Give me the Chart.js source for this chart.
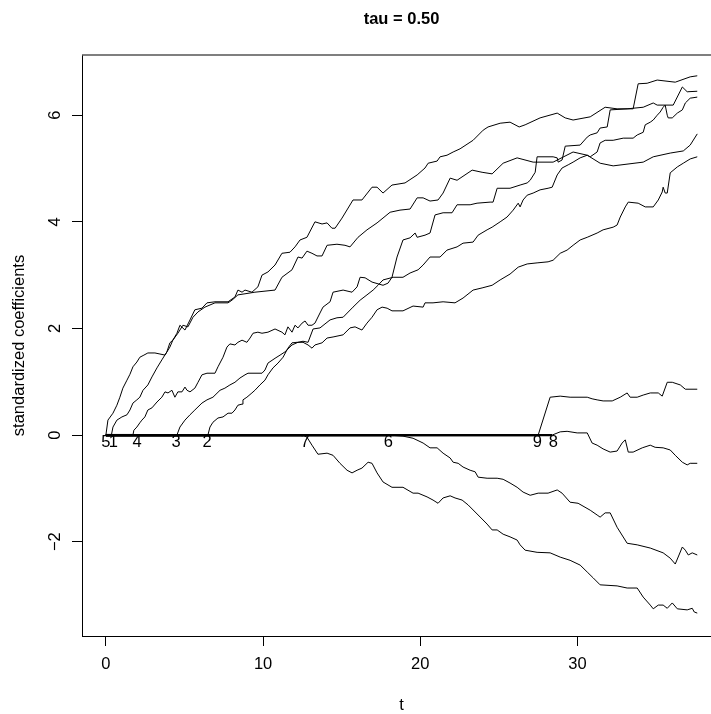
<!DOCTYPE html>
<html>
<head>
<meta charset="utf-8">
<title>tau = 0.50</title>
<script src="https://cdn.jsdelivr.net/npm/chart.js@4.4.1/dist/chart.umd.min.js"></script>
<style>
  html, body { margin: 0; padding: 0; background: #fff; overflow: hidden; }
  #wrap { width: 711px; height: 714px; overflow: hidden; }
</style>
</head>
<body>
<div id="wrap"><canvas id="pathChart" width="721" height="714"></canvas></div>
<script>
// coefficient paths, [t, standardized coefficient]
const path5 = [[0,0],[0.13,0.28],[0.45,0.41],[0.70,0.56],[0.89,0.71],[1.08,0.88],[1.34,1.03],[1.53,1.14],[1.72,1.28],[1.97,1.37],[2.16,1.46],[2.42,1.50],[2.67,1.54],[3.12,1.54],[3.44,1.52],[3.76,1.50],[4.07,1.65],[4.26,1.78],[4.52,1.91],[4.71,2.06],[5.03,1.97],[5.35,2.16],[5.66,2.35],[6.11,2.38],[6.43,2.48],[6.94,2.50],[7.77,2.50],[8.21,2.59],[8.40,2.72],[8.66,2.68],[8.85,2.72],[9.29,2.68],[9.67,2.78],[9.93,3.00],[10.31,3.06],[10.76,3.19],[11.20,3.41],[11.71,3.43],[12.03,3.53],[12.35,3.66],[12.79,3.71],[13.30,4.00],[13.75,3.96],[14.07,3.98],[14.38,3.88],[14.58,3.88],[15.02,4.07],[15.72,4.41],[16.29,4.41],[16.93,4.65],[17.25,4.65],[17.63,4.54],[18.20,4.69],[19.03,4.73],[19.80,4.88],[20.30,5.01],[20.50,5.10],[21.07,5.14],[21.26,5.22],[21.70,5.25],[22.09,5.31],[22.53,5.37],[23.36,5.53],[24.00,5.72],[24.31,5.78],[25.08,5.85],[25.71,5.87],[26.29,5.78],[26.67,5.82],[27.62,5.95],[28.71,6.04],[29.22,5.95],[29.72,5.91],[30.81,5.97],[31.76,6.15],[32.52,6.12],[33.54,6.12],[33.86,6.59],[34.43,6.60],[35.07,6.66],[36.22,6.62],[37.17,6.72],[37.62,6.74]];
const path1 = [[0,0],[0.35,0],[0.45,0.15],[0.70,0.28],[1.02,0.34],[1.34,0.38],[1.53,0.47],[1.72,0.60],[1.97,0.66],[2.16,0.71],[2.36,0.84],[2.67,0.94],[2.93,1.09],[3.25,1.26],[3.56,1.41],[3.88,1.56],[4.07,1.73],[4.26,1.78],[4.58,1.91],[4.90,2.06],[5.22,2.03],[5.54,2.21],[5.86,2.31],[6.30,2.40],[6.94,2.48],[7.77,2.48],[8.02,2.53],[8.40,2.63],[8.85,2.65],[9.48,2.68],[10.76,2.72],[11.20,2.96],[11.84,3.10],[12.22,3.34],[12.48,3.32],[12.79,3.45],[13.11,3.41],[13.43,3.36],[13.75,3.36],[14.07,3.56],[14.70,3.58],[15.21,3.56],[15.53,3.53],[16.04,3.71],[16.61,3.85],[17.25,3.98],[18.08,4.18],[18.71,4.22],[19.35,4.24],[19.80,4.45],[20.18,4.45],[20.62,4.39],[21.13,4.41],[21.45,4.54],[21.90,4.82],[22.34,4.78],[23.30,4.97],[23.93,4.93],[24.57,4.90],[25.27,5.10],[26.16,5.20],[27.18,5.12],[28.45,5.12],[29.72,5.31],[30.62,5.25],[31.44,5.10],[32.27,5.05],[34.18,5.12],[34.82,5.22],[35.90,5.29],[36.73,5.33],[37.17,5.44],[37.62,5.65]];
const path4 = [[0,0],[1.72,0],[1.78,0.09],[1.97,0.15],[2.16,0.23],[2.29,0.28],[2.48,0.34],[2.67,0.47],[2.93,0.51],[3.25,0.62],[3.56,0.71],[3.76,0.81],[3.95,0.79],[4.20,0.84],[4.39,0.71],[4.58,0.81],[4.84,0.81],[5.03,0.90],[5.16,0.84],[5.35,0.81],[5.66,0.88],[5.86,0.99],[6.11,1.13],[6.43,1.16],[6.94,1.16],[7.13,1.28],[7.45,1.46],[7.70,1.65],[7.89,1.71],[8.21,1.69],[8.40,1.74],[8.66,1.78],[8.97,1.74],[9.17,1.82],[9.36,1.91],[9.67,1.93],[9.93,1.91],[10.31,1.93],[10.76,1.99],[11.20,1.93],[11.39,1.88],[11.58,2.03],[11.84,1.93],[12.03,2.06],[12.22,2.01],[12.48,2.10],[12.67,2.14],[12.86,2.06],[13.11,2.06],[13.30,2.10],[13.62,2.29],[13.81,2.40],[14.26,2.50],[14.45,2.68],[15.09,2.72],[15.66,2.68],[15.98,2.78],[16.17,2.96],[16.49,2.95],[16.93,2.87],[17.63,2.81],[17.95,2.85],[18.20,2.96],[18.52,3.34],[18.90,3.66],[19.35,3.70],[19.67,3.79],[19.80,3.71],[20.30,3.75],[20.62,3.79],[20.94,4.13],[21.45,4.17],[22.02,4.17],[22.34,4.32],[23.17,4.32],[23.61,4.35],[24.44,4.37],[24.63,4.37],[24.89,4.63],[25.71,4.63],[26.35,4.69],[26.80,4.73],[26.99,4.78],[27.31,4.93],[27.43,5.22],[28.45,5.22],[28.71,5.20],[28.77,5.12],[29.02,5.16],[29.22,5.42],[30.17,5.44],[30.62,5.59],[30.81,5.63],[31.25,5.67],[31.44,5.76],[31.89,5.78],[32.08,6.10],[33.16,6.12],[34.18,6.15],[34.82,6.23],[35.07,6.19],[36.09,6.19],[36.67,6.53],[36.98,6.44],[37.62,6.45]];
const path3 = [[0,0],[4.52,0],[4.71,0.15],[5.03,0.28],[5.35,0.38],[5.66,0.47],[6.11,0.60],[6.43,0.66],[6.81,0.71],[7.26,0.84],[7.57,0.88],[7.89,0.94],[8.21,0.99],[8.53,1.07],[8.85,1.13],[9.04,1.16],[9.93,1.16],[10.12,1.22],[10.31,1.35],[10.76,1.44],[11.08,1.50],[11.39,1.56],[11.84,1.69],[12.22,1.74],[12.54,1.76],[12.86,1.74],[13.18,1.99],[13.62,2.01],[14.26,2.16],[14.70,2.20],[15.09,2.21],[15.72,2.40],[16.17,2.53],[16.61,2.63],[17.00,2.72],[17.31,2.81],[17.63,2.91],[18.27,2.96],[18.90,2.96],[19.35,3.04],[19.86,3.10],[20.18,3.19],[20.62,3.34],[21.26,3.34],[21.70,3.47],[22.34,3.53],[22.72,3.60],[23.36,3.62],[23.68,3.75],[24.25,3.85],[24.57,3.90],[25.08,4.00],[25.52,4.09],[25.91,4.22],[26.23,4.35],[26.35,4.28],[26.54,4.41],[26.80,4.50],[27.18,4.54],[27.62,4.60],[28.13,4.63],[28.39,4.65],[28.71,4.88],[29.02,5.01],[29.41,5.07],[29.72,5.12],[30.17,5.20],[30.62,5.25],[30.81,5.22],[31.25,5.31],[31.44,5.48],[31.76,5.53],[32.27,5.53],[32.91,5.57],[33.54,5.57],[33.80,5.63],[34.18,5.68],[34.31,5.82],[34.63,5.87],[34.82,5.91],[35.07,6.00],[35.26,6.06],[35.45,6.15],[35.58,6.19],[35.71,6.00],[35.77,5.95],[36.03,5.95],[36.35,6.04],[36.67,6.10],[36.86,6.23],[37.17,6.32],[37.62,6.34]];
const path2 = [[0,0],[6.49,0],[6.62,0.15],[6.81,0.24],[7.13,0.32],[7.45,0.34],[7.77,0.41],[8.02,0.41],[8.21,0.47],[8.40,0.56],[8.66,0.58],[8.72,0.66],[8.97,0.71],[9.29,0.79],[9.48,0.84],[9.80,0.94],[10.12,1.03],[10.31,1.13],[10.63,1.26],[10.95,1.35],[11.27,1.46],[11.58,1.63],[11.84,1.73],[12.16,1.74],[12.54,1.74],[12.86,1.69],[13.11,1.63],[13.30,1.69],[13.75,1.73],[14.07,1.82],[14.45,1.84],[15.09,1.88],[15.53,2.01],[15.85,2.03],[16.29,1.97],[16.61,2.10],[16.93,2.21],[17.25,2.35],[17.57,2.40],[17.89,2.38],[18.20,2.33],[18.90,2.33],[19.54,2.42],[20.18,2.40],[20.30,2.48],[20.81,2.48],[21.45,2.50],[22.21,2.48],[22.72,2.57],[23.36,2.72],[23.93,2.76],[24.57,2.81],[25.08,2.91],[25.71,3.02],[26.23,3.15],[26.80,3.21],[27.43,3.23],[28.13,3.25],[28.45,3.28],[28.90,3.41],[29.34,3.47],[29.72,3.56],[30.17,3.66],[30.62,3.71],[31.25,3.79],[31.63,3.85],[32.27,3.90],[32.52,3.94],[32.72,4.09],[33.04,4.28],[33.23,4.37],[33.86,4.35],[34.31,4.28],[34.82,4.28],[35.14,4.41],[35.39,4.56],[35.45,4.65],[35.58,4.54],[35.71,4.54],[35.90,4.92],[36.35,5.03],[36.73,5.10],[37.17,5.18],[37.62,5.22]];
const path7 = [[0,0],[12.54,0],[12.79,-0.04],[13.11,-0.19],[13.49,-0.36],[14.07,-0.34],[14.45,-0.38],[14.89,-0.53],[15.34,-0.66],[15.66,-0.71],[15.98,-0.66],[16.29,-0.62],[16.68,-0.51],[16.93,-0.53],[17.25,-0.71],[17.63,-0.88],[18.20,-0.98],[18.90,-0.98],[19.54,-1.09],[19.86,-1.09],[20.43,-1.16],[20.81,-1.22],[21.13,-1.28],[21.45,-1.18],[21.90,-1.14],[22.21,-1.18],[22.66,-1.22],[23.04,-1.31],[23.68,-1.50],[24.25,-1.67],[24.57,-1.78],[24.89,-1.78],[25.27,-1.86],[25.71,-1.91],[26.16,-1.97],[26.35,-2.06],[26.67,-2.16],[27.43,-2.20],[28.26,-2.21],[28.90,-2.29],[29.53,-2.35],[30.17,-2.44],[30.62,-2.57],[31.00,-2.68],[31.44,-2.81],[32.52,-2.83],[33.16,-2.87],[33.80,-2.87],[34.18,-3.04],[34.63,-3.19],[34.82,-3.26],[35.14,-3.19],[35.45,-3.19],[35.71,-3.25],[36.03,-3.15],[36.35,-3.26],[36.98,-3.28],[37.30,-3.25],[37.43,-3.32],[37.62,-3.34]];
const path6 = [[0,0],[17.95,0],[18.90,-0.02],[19.54,-0.06],[20.18,-0.15],[20.62,-0.24],[21.07,-0.24],[21.45,-0.34],[21.90,-0.43],[22.09,-0.51],[22.41,-0.53],[22.72,-0.60],[23.17,-0.66],[23.49,-0.69],[23.68,-0.79],[24.25,-0.81],[24.89,-0.81],[25.27,-0.83],[25.71,-0.90],[26.16,-0.98],[26.54,-1.07],[26.99,-1.13],[27.50,-1.09],[28.13,-1.09],[28.71,-1.03],[29.02,-1.09],[29.53,-1.26],[30.04,-1.28],[30.81,-1.41],[31.25,-1.50],[31.44,-1.54],[31.76,-1.46],[32.08,-1.46],[32.52,-1.73],[33.16,-2.03],[33.80,-2.06],[34.63,-2.12],[35.45,-2.21],[35.90,-2.31],[36.22,-2.42],[36.67,-2.10],[36.86,-2.16],[37.05,-2.25],[37.30,-2.21],[37.62,-2.25]];
const path9 = [[0,0],[27.50,0],[28.26,0.71],[28.90,0.73],[29.53,0.71],[30.62,0.71],[30.93,0.68],[31.25,0.66],[31.63,0.64],[32.21,0.64],[32.72,0.71],[33.16,0.79],[33.35,0.71],[33.80,0.71],[34.18,0.75],[34.63,0.79],[35.14,0.79],[35.39,0.73],[35.71,0.99],[36.03,0.99],[36.54,0.94],[36.86,0.86],[37.62,0.86]];
const path8 = [[0,0],[28.39,0],[28.90,0.06],[29.34,0.07],[29.98,0.04],[30.62,0.04],[30.93,-0.15],[31.25,-0.19],[31.63,-0.26],[32.08,-0.32],[32.52,-0.30],[32.84,-0.15],[33.04,-0.09],[33.23,-0.32],[33.54,-0.32],[34.12,-0.24],[34.63,-0.19],[34.94,-0.23],[35.45,-0.24],[35.90,-0.28],[36.22,-0.38],[36.67,-0.51],[36.98,-0.56],[37.17,-0.53],[37.62,-0.53]];

// variable labels and the t where each one enters
const varNames = ['5', '1', '4', '3', '2', '7', '6', '9', '8'];
const varEntry = [0, 0.47, 1.99, 4.46, 6.43, 12.67, 17.96, 27.45, 28.47];

const xTicks = [0, 10, 20, 30];
const yTicks = [-2, 0, 2, 4, 6];
const xRange = [-1.52, 39.13];
const yRange = [-3.77, 7.13];

const FONT = '"Liberation Sans", Arial, Helvetica, sans-serif';

const paths = [path5, path1, path4, path3, path2, path7, path6, path9, path8];

// R-ish decorations: top frame line, rotated y labels, titles, variable numbers
const decor = {
  id: 'decor',
  afterDatasetsDraw(chart) {
    const { ctx, scales: { x, y } } = chart;
    ctx.save();
    ctx.fillStyle = '#000';
    ctx.font = '16.5px ' + FONT;
    ctx.textAlign = 'center';
    ctx.textBaseline = 'middle';
    const y0 = y.getPixelForValue(0);
    varNames.forEach((n, i) => {
      ctx.fillText(n, x.getPixelForValue(varEntry[i]), y0 + 7);
    });
    ctx.restore();
  },
  afterDraw(chart) {
    const { ctx, chartArea: a, scales: { y } } = chart;
    ctx.save();
    ctx.strokeStyle = '#555';
    ctx.lineWidth = 1.3;
    ctx.beginPath();
    ctx.moveTo(a.left, a.top);
    ctx.lineTo(a.right, a.top);
    ctx.stroke();

    ctx.fillStyle = '#000';
    ctx.textAlign = 'center';
    ctx.textBaseline = 'middle';
    ctx.font = '16.5px ' + FONT;
    for (const v of yTicks) {
      ctx.save();
      ctx.translate(55, y.getPixelForValue(v));
      ctx.rotate(-Math.PI / 2);
      ctx.fillText(v < 0 ? '\u2212' + Math.abs(v) : String(v), 0, 0);
      ctx.restore();
    }
    const cx = (a.left + a.right) / 2;
    ctx.fillText('t', cx, 705);
    ctx.save();
    ctx.translate(19, (a.top + a.bottom) / 2);
    ctx.rotate(-Math.PI / 2);
    ctx.fillText('standardized coefficients', 0, 0);
    ctx.restore();
    ctx.font = 'bold 16.5px ' + FONT;
    ctx.fillText('tau = 0.50', cx, 19);
    ctx.restore();
  }
};

new Chart(document.getElementById('pathChart'), {
  type: 'line',
  data: {
    datasets: paths.map((p, i) => ({
      label: 'x' + varNames[i],
      data: p.map(([t, v]) => ({ x: t, y: v })),
      borderColor: '#000',
      borderWidth: 1,
      pointRadius: 0,
      tension: 0,
      fill: false,
      // the stretch before a variable enters sits on zero; all of them overlap there
      segment: { borderWidth: c => (c.p0.parsed.y === 0 && c.p1.parsed.y === 0 ? 2.2 : 1) }
    }))
  },
  options: {
    responsive: false,
    animation: false,
    devicePixelRatio: 1,
    layout: { padding: { top: 55, left: 0, right: 0, bottom: 0 } },
    plugins: { legend: { display: false }, tooltip: { enabled: false } },
    scales: {
      x: {
        type: 'linear',
        min: xRange[0],
        max: xRange[1],
        afterBuildTicks: s => { s.ticks = xTicks.map(v => ({ value: v })); },
        afterFit: s => { s.height = 78; },
        grid: { drawOnChartArea: false, drawTicks: true, tickLength: 10, color: '#000' },
        border: { display: true, color: '#000', width: 1 },
        ticks: { color: '#000', font: { family: FONT, size: 16.5 }, padding: 9, maxRotation: 0, callback: v => String(v) }
      },
      y: {
        type: 'linear',
        min: yRange[0],
        max: yRange[1],
        afterBuildTicks: s => { s.ticks = yTicks.map(v => ({ value: v })); },
        afterFit: s => { s.width = 82; },
        grid: { drawOnChartArea: false, drawTicks: true, tickLength: 10, color: '#000' },
        border: { display: true, color: '#000', width: 1 },
        ticks: { display: false }
      }
    }
  },
  plugins: [decor]
});
</script>
</body>
</html>
